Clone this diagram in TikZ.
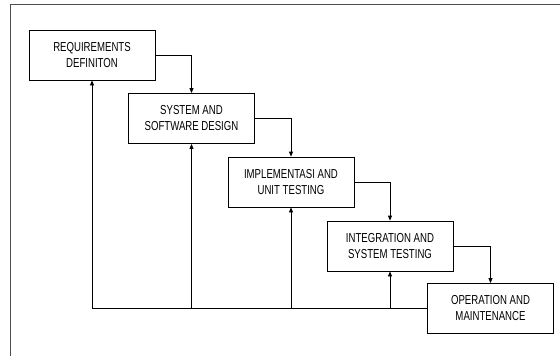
\documentclass[tikz,border=0pt]{standalone}
\usepackage{fontspec}
\setmainfont{Liberation Sans}[FakeStretch=0.74]
\usepackage{tikz}
\usetikzlibrary{calc}
\usetikzlibrary{arrows.meta}
\usetikzlibrary{positioning}
\tikzstyle{phasenode}=[black, draw=black, line width=0.8pt, shape=rectangle, fill=white, minimum width=126pt, minimum height=50pt, inner sep=2pt, align=center, font=\fontsize{13pt}{16pt}\selectfont]
\tikzstyle{flowline}=[-{Triangle[length=5pt, width=4pt]}, line width=0.8pt, color=black]

\begin{document}
\begin{tikzpicture}[x=1pt, y=-1pt]
\useasboundingbox (0,0) rectangle (560,356);
\draw[line width=0.9pt, color=black!70] (10,4) rectangle (575,370);

\node [phasenode] (reqdef) at (92,55) {REQUIREMENTS\\DEFINITON};
\node [phasenode] (sysdesign) at (191.5,118.5) {SYSTEM AND\\SOFTWARE DESIGN};
\node [phasenode] (impl) at (291,182) {IMPLEMENTASI AND\\UNIT TESTING};
\node [phasenode] (integ) at (390,246) {INTEGRATION AND\\SYSTEM TESTING};
\node [phasenode] (operate) at (490.5,308.5) {OPERATION AND\\MAINTENANCE};

\draw[flowline] (reqdef.east) -| (sysdesign.north);
\draw[flowline] (sysdesign.east) -| (impl.north);
\draw[flowline] (impl.east) -| (integ.north);
\draw[flowline] (integ.east) -| (operate.north);

\draw[flowline] (operate.west) -| (reqdef.south);
\draw[flowline] (sysdesign.south |- operate.west) -- (sysdesign.south);
\draw[flowline] (impl.south |- operate.west) -- (impl.south);
\draw[flowline] (integ.south |- operate.west) -- (integ.south);
\end{tikzpicture}
\end{document}
